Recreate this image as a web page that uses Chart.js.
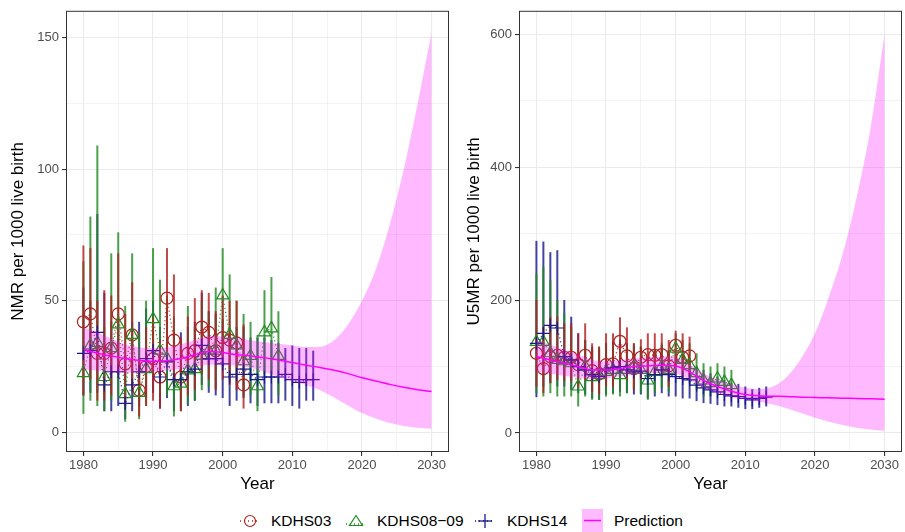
<!DOCTYPE html>
<html>
<head>
<meta charset="utf-8">
<script src="https://cdn.jsdelivr.net/npm/chart.js@4.4.1/dist/chart.umd.min.js"></script>
<style>
  body { margin: 0; background: #fff; font-family: "Liberation Sans", Arial, sans-serif; }
  #wrap { position: relative; width: 905px; height: 532px; }
  #nmr { position: absolute; left: 0; top: 0; }
  #u5mr { position: absolute; left: 452px; top: 0; }
  #legend { position: absolute; left: 0; top: 500px; width: 905px; height: 32px; font-size: 15.5px; color: #000; }
  #legend .ic { position: absolute; top: 10px; }
  #legend .tx { position: absolute; top: 12px; line-height: 18px; white-space: nowrap; }
</style>
</head>
<body>
<div id="wrap">
  <canvas id="nmr" width="452" height="500"></canvas>
  <canvas id="u5mr" width="453" height="500"></canvas>
  <div id="legend">
    <svg class="ic" style="left:239px" width="22" height="22"><line x1="1" y1="11" x2="21" y2="11" stroke="#B22222" stroke-width="1.3" stroke-dasharray="1,3"/><circle cx="11" cy="11" r="5.5" fill="none" stroke="#B22222" stroke-width="1.2"/></svg>
    <span class="tx" style="left:271px">KDHS03</span>
    <svg class="ic" style="left:345px" width="22" height="22"><line x1="1" y1="14" x2="21" y2="14" stroke="#228B22" stroke-width="1.3" stroke-dasharray="1,3"/><polygon points="11,5.5 17.5,15.5 4.5,15.5" fill="none" stroke="#228B22" stroke-width="1.2"/></svg>
    <span class="tx" style="left:377px">KDHS08&minus;09</span>
    <svg class="ic" style="left:474px" width="22" height="22"><line x1="1" y1="11" x2="21" y2="11" stroke="#1a1a8c" stroke-width="1.3" stroke-dasharray="1,3"/><line x1="4" y1="11" x2="18" y2="11" stroke="#1a1a8c" stroke-width="1.3"/><line x1="11" y1="4" x2="11" y2="18" stroke="#1a1a8c" stroke-width="1.3"/></svg>
    <span class="tx" style="left:507px">KDHS14</span>
    <svg style="position:absolute;left:582px;top:9px" width="21" height="23"><rect x="0" y="0" width="21" height="23" fill="#FFBBFF"/><line x1="2" y1="11.5" x2="19" y2="11.5" stroke="#FF00FF" stroke-width="1.5"/></svg>
    <span class="tx" style="left:614px">Prediction</span>
  </div>
</div>
<script>
// years per survey
const years03 = [1980, 1981, 1982, 1983, 1984, 1985, 1986, 1987, 1988, 1989, 1990, 1991, 1992, 1993, 1994, 1995, 1996, 1997, 1998, 1999, 2000, 2001, 2002, 2003];
const years08 = [1980, 1981, 1982, 1983, 1984, 1985, 1986, 1987, 1988, 1989, 1990, 1991, 1992, 1993, 1994, 1995, 1996, 1997, 1998, 1999, 2000, 2001, 2002, 2003, 2004, 2005, 2006, 2007, 2008];
const years14 = [1980, 1981, 1982, 1983, 1984, 1985, 1986, 1987, 1988, 1989, 1990, 1991, 1992, 1993, 1994, 1995, 1996, 1997, 1998, 1999, 2000, 2001, 2002, 2003, 2004, 2005, 2006, 2007, 2008, 2009, 2010, 2011, 2012, 2013];
const years03u = years03.slice(0, 23);
const predYears = [1980, 1982, 1984, 1986, 1988, 1990, 1992, 1994, 1996, 1998, 2000, 2002, 2004, 2006, 2008, 2010, 2012, 2014, 2016, 2018, 2020, 2022, 2024, 2026, 2028, 2030];

// NMR
const nmr03 = [42, 45, 30, 30, 32, 45, 26, 37, 16, 25, 28, 21, 51, 35, 21, 30, 31, 40, 38, 31, 36, 35, 34, 18];
const nmr03Low = [14, 20, 12, 12, 14, 22, 10, 17, 6, 10, 12, 9, 30, 18, 8, 14, 16, 22, 20, 16, 20, 18, 16, 9];
const nmr03High = [71, 70, 50, 54, 52, 68, 45, 57, 28, 40, 44, 35, 70, 60, 36, 44, 51, 54, 53, 46, 52, 50, 50, 41];
const nmr08 = [22.5, 33, 34, 21, 32, 41, 14.5, 37, 15, 24, 43, 31, 28, 17.5, 18.5, 23.5, 24, 29, 31, 31, 52, 37, 33, 27, 29, 17.5, 38, 39.5, 29];
const nmr08Low = [7, 12, 10, 8, 12, 14, 4, 15, 5, 10, 22, 15, 14, 6, 8, 11, 12, 16, 17, 17, 30, 20, 18, 14, 14, 8, 22, 22, 14];
const nmr08High = [65, 82, 109, 40, 68, 76, 48, 68, 38, 50, 70, 58, 52, 44, 35, 48, 40, 50, 46, 55, 70, 60, 50, 45, 42, 37, 54, 59, 46];
const nmr14 = [30, 31, 38, 18, 23, 23, 11, 18, 23, 28, 31, 21, 27, 20, 20, 23, 24, 33, 28, 28, 26, 21, 22, 24, 22, 20, 21, 21, 21, 22, 20, 19, 20, 20];
const nmr14Low = [14, 15, 15, 8, 8, 10, 5, 8, 10, 13, 15, 9, 13, 8, 9, 10, 12, 18, 15, 14, 13, 10, 12, 13, 11, 10, 11, 11, 11, 12, 10, 9, 12, 12];
const nmr14High = [55, 50, 83, 53, 42, 42, 29, 42, 42, 47, 50, 40, 46, 38, 38, 40, 42, 53, 46, 45, 43, 38, 40, 40, 36, 36, 36, 35, 34, 32, 33, 32, 32, 31];
const nmrPred = [31.5, 30, 29, 28, 27.3, 27, 27.2, 28, 29.5, 30.7, 30.3, 29.5, 29, 28.3, 27.5, 26.5, 25.5, 24.6, 23.6, 22.3, 20.7, 19.5, 18.2, 17.1, 16.2, 15.5];
const nmrPredLow = [23.8, 23.5, 23, 22.5, 22.5, 23, 23.5, 24, 25, 25.7, 25.7, 25.3, 24.5, 23, 21, 19.5, 18, 16, 13.2, 10.2, 7.3, 5.2, 3.5, 2.4, 1.7, 1.3];
const nmrPredHigh = [40, 38, 35.5, 33.5, 32.3, 32, 32.3, 33.5, 35, 36.5, 36.4, 35.8, 35, 34.3, 33.6, 33, 32.4, 32.5, 35, 41, 50, 62, 79, 100, 125, 152];

// U5MR
const u503 = [120, 97, 115, 117, 114, 114, 103, 117, 94, 89, 103, 104, 138, 116, 97, 114, 118, 117, 118, 101, 132, 114, 116];
const u503Low = [70, 60, 75, 80, 78, 78, 68, 80, 62, 58, 70, 70, 100, 80, 65, 80, 85, 85, 85, 70, 100, 82, 85];
const u503High = [200, 160, 175, 175, 165, 165, 150, 165, 135, 130, 150, 150, 174, 159, 135, 141, 150, 150, 150, 140, 154, 150, 145];
const u508 = [137, 137, 120, 110, 108, 105, 70, 100, 84, 87, 92, 95, 87, 95, 100, 95, 79, 92, 100, 95, 127, 110, 102, 90, 79, 75, 82, 77, 72];
const u508Low = [60, 55, 60, 55, 55, 55, 40, 55, 50, 50, 55, 58, 55, 60, 65, 60, 50, 60, 68, 62, 90, 80, 75, 65, 55, 55, 60, 55, 52];
const u508High = [240, 250, 230, 200, 180, 160, 110, 140, 125, 130, 135, 135, 125, 130, 135, 130, 110, 125, 135, 125, 150, 140, 135, 120, 105, 100, 105, 100, 95];
const u514 = [135, 150, 162, 158, 115, 110, 100, 95, 88, 85, 95, 98, 100, 95, 92, 93, 82, 88, 95, 88, 85, 82, 80, 72, 68, 65, 62, 58, 56, 55, 52, 50, 52, 54];
const u514Low = [54, 70, 75, 70, 70, 65, 60, 58, 52, 50, 58, 60, 62, 60, 58, 58, 52, 55, 60, 55, 55, 52, 52, 48, 45, 44, 42, 40, 40, 38, 36, 36, 38, 40];
const u514High = [289, 288, 272, 275, 200, 175, 150, 140, 130, 125, 135, 138, 140, 135, 130, 130, 115, 125, 132, 125, 120, 115, 110, 100, 95, 90, 85, 80, 76, 74, 70, 66, 68, 70];
const u5Pred = [115, 110, 105, 100, 95, 95, 97, 100, 101, 102, 101, 92, 79, 70, 63, 58, 56, 55.4, 55, 54, 53.5, 53, 52.5, 52, 51.5, 51];
const u5PredLow = [92, 89, 86, 83, 81, 82, 85, 88, 90, 90, 89, 80, 68, 60, 54, 50, 47, 43, 37, 30, 23, 17, 12, 8, 5.5, 3.5];
const u5PredHigh = [140, 133, 125, 118, 110, 108, 110, 112, 114, 115, 114, 103, 90, 81, 74, 68, 66, 70, 85, 112, 150, 205, 270, 355, 460, 600];

const xTicks = [1980, 1985, 1990, 1995, 2000, 2005, 2010, 2015, 2020, 2025, 2030];
const nmrTicks = [0, 25, 50, 75, 100, 125, 150];
const u5Ticks = [0, 100, 200, 300, 400, 500, 600];

const red = '#B22222';
const green = '#228B22';
const blue = '#1a1a8c';
const font = '"Liberation Sans", Arial, sans-serif';

const pts = (xs, ys) => xs.map((x, i) => ({ x: x, y: ys[i] }));

const errorBars = {
  id: 'errorBars',
  beforeDatasetsDraw(chart) {
    const { ctx, scales: { x, y } } = chart;
    ctx.save();
    ctx.lineWidth = 2;
    chart.data.datasets.forEach(ds => {
      if (!ds.errLow) return;
      ctx.strokeStyle = ds.errColor;
      ds.data.forEach((p, i) => {
        const px = x.getPixelForValue(p.x);
        ctx.beginPath();
        ctx.moveTo(px, y.getPixelForValue(ds.errLow[i]));
        ctx.lineTo(px, y.getPixelForValue(ds.errHigh[i]));
        ctx.stroke();
      });
    });
    ctx.restore();
  }
};

const panelBorder = {
  id: 'panelBorder',
  afterDraw(chart) {
    const { ctx, chartArea: a } = chart;
    ctx.save();
    ctx.strokeStyle = '#333333';
    ctx.lineWidth = 1;
    ctx.strokeRect(a.left + 0.5, a.top + 0.5, a.width - 1, a.height - 1);
    ctx.restore();
  }
};

const surveySet = (label, xs, ys, lo, hi, color, style, radius) => ({
  label: label,
  data: pts(xs, ys),
  errLow: lo,
  errHigh: hi,
  errColor: color + 'D0',
  showLine: true,
  borderColor: color,
  borderWidth: 1.3,
  borderDash: [1, 3],
  pointStyle: style,
  pointRadius: radius,
  pointBorderColor: color,
  pointBackgroundColor: 'rgba(0,0,0,0)',
  pointBorderWidth: 1.2,
  fill: false
});

const makeChart = (id, yTitle, yMin, yMax, yTicks, yMajor, yWidth, titlePad, s03, s08, s14, pred, predLo, predHi, yrs03) => {
  const ctx = document.getElementById(id).getContext('2d');
  return new Chart(ctx, {
    type: 'scatter',
    data: {
      datasets: [
        { label: 'Prediction', data: pts(predYears, pred), showLine: true, borderColor: '#FF00FF', borderWidth: 1.5, pointRadius: 0, cubicInterpolationMode: 'monotone', fill: false },
        { label: 'hi', data: pts(predYears, predHi), showLine: true, borderWidth: 0, borderColor: 'rgba(0,0,0,0)', pointRadius: 0, cubicInterpolationMode: 'monotone', fill: '+1', backgroundColor: 'rgba(255,0,255,0.27)' },
        { label: 'lo', data: pts(predYears, predLo), showLine: true, borderWidth: 0, borderColor: 'rgba(0,0,0,0)', pointRadius: 0, cubicInterpolationMode: 'monotone', fill: false },
        surveySet('KDHS14', years14, s14[0], s14[1], s14[2], blue, 'cross', 6.5),
        surveySet('KDHS08-09', years08, s08[0], s08[1], s08[2], green, 'triangle', 7),
        surveySet('KDHS03', yrs03, s03[0], s03[1], s03[2], red, 'circle', 6)
      ]
    },
    options: {
      responsive: false,
      animation: false,
      events: [],
      layout: { autoPadding: false, padding: { top: 9, right: 3, left: 0, bottom: 0 } },
      plugins: { legend: { display: false }, tooltip: { enabled: false } },
      scales: {
        x: {
          type: 'linear',
          min: 1977.5,
          max: 2032.5,
          afterBuildTicks: s => { s.ticks = xTicks.map(v => ({ value: v })); },
          afterFit: s => { s.height = 48; },
          ticks: {
            color: '#4D4D4D',
            font: { size: 13, family: font },
            padding: 2,
            maxRotation: 0,
            autoSkip: false,
            callback: v => (v % 10 === 0 ? String(v) : '')
          },
          grid: {
            color: '#EBEBEB',
            lineWidth: c => (c.tick && c.tick.value % 10 === 0 ? 1.1 : 0.6),
            tickColor: c => (c.tick && c.tick.value % 10 === 0 ? '#333333' : 'rgba(0,0,0,0)'),
            tickLength: 4
          },
          border: { display: false },
          title: { display: true, text: 'Year', color: '#000', font: { size: 17, family: font }, padding: { top: 0, bottom: 5 } }
        },
        y: {
          min: yMin,
          max: yMax,
          afterBuildTicks: s => { s.ticks = yTicks.map(v => ({ value: v })); },
          afterFit: s => { s.width = yWidth; },
          ticks: {
            color: '#4D4D4D',
            font: { size: 13, family: font },
            padding: 3,
            autoSkip: false,
            callback: v => (v % yMajor === 0 ? String(v) : '')
          },
          grid: {
            color: '#EBEBEB',
            lineWidth: c => (c.tick && c.tick.value % yMajor === 0 ? 1.1 : 0.6),
            tickColor: c => (c.tick && c.tick.value % yMajor === 0 ? '#333333' : 'rgba(0,0,0,0)'),
            tickLength: 4
          },
          border: { display: false },
          title: { display: true, text: yTitle, color: '#000', font: { size: 17, family: font }, padding: { top: titlePad, bottom: 0 } }
        }
      }
    },
    plugins: [errorBars, panelBorder]
  });
};

makeChart('nmr', 'NMR per 1000 live birth', -7.5, 160.2, nmrTicks, 50, 66, 8,
  [nmr03, nmr03Low, nmr03High], [nmr08, nmr08Low, nmr08High], [nmr14, nmr14Low, nmr14High],
  nmrPred, nmrPredLow, nmrPredHigh, years03);

makeChart('u5mr', 'U5MR per 1000 live birth', -28.5, 635, u5Ticks, 200, 67, 12,
  [u503, u503Low, u503High], [u508, u508Low, u508High], [u514, u514Low, u514High],
  u5Pred, u5PredLow, u5PredHigh, years03u);
</script>
</body>
</html>
